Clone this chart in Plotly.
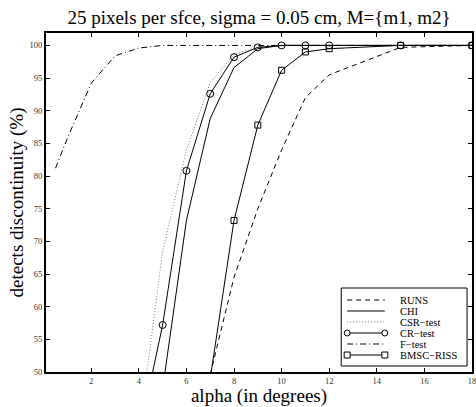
import plotly.graph_objects as go

# Detection rate (%) versus discontinuity angle alpha (degrees)
alpha_f = [0.5, 1, 2, 3, 4, 5, 6, 7, 8, 9, 10, 11, 12, 15, 18]
f_test = [81.2, 85.8, 94.2, 98.4, 99.6, 100, 100, 100, 100, 100, 100, 100, 100, 100, 100]

alpha = [4, 5, 6, 7, 8, 9, 10, 11, 12, 15, 18]
cr_test = [40.0, 57.2, 80.8, 92.6, 98.2, 99.7, 100, 100, 100, 100, 100]
csr_test = [40.5, 68.5, 84.0, 94.3, 98.6, 99.8, 100, 100, 100, 100, 100]

alpha_chi = [5, 6, 7, 8, 9, 10, 11, 12, 15, 18]
chi = [47.4, 73.2, 88.8, 96.6, 99.5, 100, 100, 100, 100, 100]

alpha_late = [7, 8, 9, 10, 11, 12, 15, 18]
runs = [49.6, 64.5, 75.0, 84.0, 92.0, 95.5, 99.7, 100]
bmsc_riss = [49.0, 73.2, 87.8, 96.2, 99.0, 99.5, 100, 100]

x_ticks = [2, 4, 6, 8, 10, 12, 14, 16, 18]
y_ticks = [50, 55, 60, 65, 70, 75, 80, 85, 90, 95, 100]

legend_names = ["RUNS", "CHI", "CSR\u2212test", "CR\u2212test", "F\u2212test", "BMSC\u2212RISS"]

W, H = 476, 407
L, T, B, R = 46, 33, 35, 0
PW, PH = W - L - R, H - T - B
SERIF = "Liberation Serif"


def px(xp):
    return (xp - L) / PW


def py(yp):
    return (H - B - yp) / PH


fig = go.Figure()
line_k = dict(color="black", width=1)
fig.add_trace(go.Scatter(x=alpha_late, y=runs, mode="lines",
                         line=dict(color="black", width=1, dash="5px,4px")))
fig.add_trace(go.Scatter(x=alpha_chi, y=chi, mode="lines", line=line_k))
fig.add_trace(go.Scatter(x=alpha, y=csr_test, mode="lines",
                         line=dict(color="#777", width=1, dash="1px,2px")))
fig.add_trace(go.Scatter(x=alpha, y=cr_test, mode="lines+markers", line=line_k,
                         marker=dict(symbol="circle-open", size=7, color="black",
                                     line=dict(width=1, color="black"))))
fig.add_trace(go.Scatter(x=alpha_f, y=f_test, mode="lines",
                         line=dict(color="black", width=1, dash="6px,3px,1px,3px")))
fig.add_trace(go.Scatter(x=alpha_late, y=bmsc_riss, mode="lines+markers", line=line_k,
                         marker=dict(symbol="square-open", size=6, color="black",
                                     line=dict(width=1, color="black"))))

# Hand-drawn legend box with line samples
box = dict(x0=344, x1=471, y0=288, y1=366)
shapes = [dict(type="rect", xref="paper", yref="paper",
               x0=px(box["x0"]), x1=px(box["x1"]), y0=py(box["y1"]), y1=py(box["y0"]),
               line=dict(color="black", width=1), fillcolor="white", layer="above")]
row_y = [300, 311, 322, 333, 344, 355]
sample_dash = ["5px,4px", "solid", "1px,2px", "solid", "6px,3px,1px,3px", "solid"]
sample_col = ["black", "black", "#777", "black", "black", "black"]
s0, s1 = 350, 388
annotations = []
for i, name in enumerate(legend_names):
    yy = py(row_y[i])
    shapes.append(dict(type="line", xref="paper", yref="paper", x0=px(s0), x1=px(s1),
                       y0=yy, y1=yy, line=dict(color=sample_col[i], width=1, dash=sample_dash[i])))
    if name in ("CR\u2212test", "BMSC\u2212RISS"):
        kind = "circle" if name.startswith("CR") else "rect"
        r = 3
        for cx in (s0, s1):
            shapes.append(dict(type=kind, xref="paper", yref="paper",
                               x0=px(cx - r), x1=px(cx + r),
                               y0=py(row_y[i] + r), y1=py(row_y[i] - r),
                               line=dict(color="black", width=1), fillcolor="white"))
    annotations.append(dict(text=name, xref="paper", yref="paper", x=px(401), y=yy,
                            xanchor="left", yanchor="middle", showarrow=False,
                            font=dict(family=SERIF, size=10.5, color="black")))

axis_common = dict(showline=True, linecolor="black", linewidth=2, mirror="ticks",
                   ticks="inside", ticklen=4, tickwidth=1, tickcolor="black",
                   showgrid=False, zeroline=False, ticklabeloverflow="allow",
                   tickfont=dict(family=SERIF, size=8.5, color="#333"))

fig.update_layout(
    width=W, height=H,
    margin=dict(l=L, r=R, t=T, b=B, pad=0),
    paper_bgcolor="white", plot_bgcolor="white",
    showlegend=False,
    font=dict(family=SERIF, color="black"),
    title=dict(text="25 pixels per sfce, sigma = 0.05 cm, M={m1, m2}",
               x=0.5, xref="paper", xanchor="center",
               y=1 - 17 / H, yref="container", yanchor="middle",
               font=dict(family=SERIF, size=19, color="black")),
    xaxis=dict(range=[0.1, 18], tickvals=x_ticks,
               title=dict(text="alpha (in degrees)", standoff=0,
                          font=dict(family=SERIF, size=19, color="black")),
               **axis_common),
    yaxis=dict(range=[50, 101.9], tickvals=y_ticks,
               title=dict(text="detects discontinuity (%)", standoff=1,
                          font=dict(family=SERIF, size=19, color="black")),
               **axis_common),
    shapes=shapes,
    annotations=annotations,
)

fig.write_html("out.html")
